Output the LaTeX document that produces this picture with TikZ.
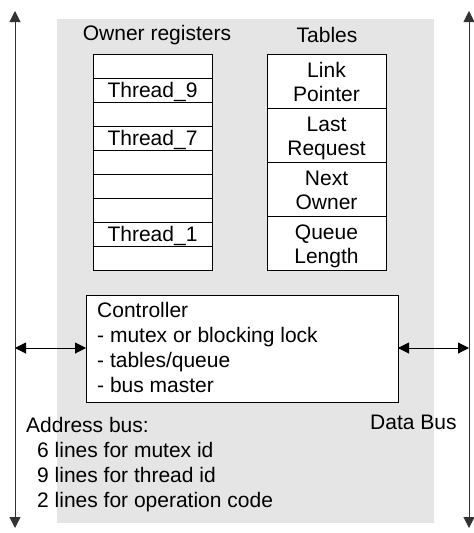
\documentclass[tikz,border=0pt]{standalone}
\usepackage{fontspec}
\setmainfont{Liberation Sans}
\usetikzlibrary{arrows.meta}
\tikzset{
  txt/.style={font=\fontsize{21}{24}\selectfont, inner sep=0pt},
  cell/.style={draw=black, fill=white, line width=0.9pt},
  bus/.style={draw=black!80, line width=1pt, -{Triangle[length=11pt,width=11pt]}},
  link/.style={draw=black, line width=1pt, {Triangle[length=11pt,width=11pt]}-{Triangle[length=11pt,width=11pt]}}
}
\begin{document}
\begin{tikzpicture}[x=1pt,y=-1pt]
\useasboundingbox (0,0) rectangle (474,533);
% gray background
\fill[gray!20] (57,19) rectangle (434,523);
% buses
\coordinate (lb) at (15,528);
\coordinate (lt) at (15,11);
\coordinate (rb) at (469,528);
\coordinate (rt) at (469,11);
\coordinate (lm) at (15,348);
\coordinate (rm) at (469,348);
\draw[bus] (lm) -- (lt);
\draw[bus] (lm) -- (lb);
\draw[bus] (rm) -- (rt);
\draw[bus] (rm) -- (rb);
% owner registers
\node[txt] (ownlab) at (157,35) {Owner registers};
\foreach \i in {0,...,8} {
  \draw[cell] (93,{54+24*\i}) rectangle (212,{78+24*\i});
}
\node[txt, anchor=base] (t9) at (152.5,97.5) {Thread\_9};
\node[txt, anchor=base] (t7) at (152.5,145.5) {Thread\_7};
\node[txt, anchor=base] (t1) at (152.5,241.5) {Thread\_1};
% tables
\node[txt] (tablab) at (327,35) {Tables};
\foreach \i in {0,...,3} {
  \draw[cell] (267,{54+54*\i}) rectangle (386,{108+54*\i});
}
\node[txt, anchor=base] (lp1) at (326.5,77.5) {Link};
\node[txt, anchor=base] (lp2) at (326.5,101) {Pointer};
\node[txt, anchor=base] (lr1) at (326.5,131.5) {Last};
\node[txt, anchor=base] (lr2) at (326.5,155) {Request};
\node[txt, anchor=base] (no1) at (326.5,185.5) {Next};
\node[txt, anchor=base] (no2) at (326.5,209) {Owner};
\node[txt, anchor=base] (ql1) at (326.5,239.5) {Queue};
\node[txt, anchor=base] (ql2) at (326.5,263) {Length};
% controller
\draw[cell] (86,295) rectangle (398,402);
\node[txt, anchor=base west] (c1) at (97,317) {Controller};
\node[txt, anchor=base west] (c2) at (97,342) {- mutex or blocking lock};
\node[txt, anchor=base west] (c3) at (97,367) {- tables/queue};
\node[txt, anchor=base west] (c4) at (97,392) {- bus master};
\coordinate (cw) at (86,348);
\coordinate (ce) at (398,348);
\draw[link] (lm) -- (cw);
\draw[link] (ce) -- (rm);
% address bus text
\node[txt, anchor=base west] (a1) at (26,432) {Address bus:};
\node[txt, anchor=base west] (a2) at (37,457) {6 lines for mutex id};
\node[txt, anchor=base west] (a3) at (37,482) {9 lines for thread id};
\node[txt, anchor=base west] (a4) at (37,507) {2 lines for operation code};
\node[txt, anchor=base west] (db) at (370,429) {Data Bus};
\end{tikzpicture}
\end{document}
